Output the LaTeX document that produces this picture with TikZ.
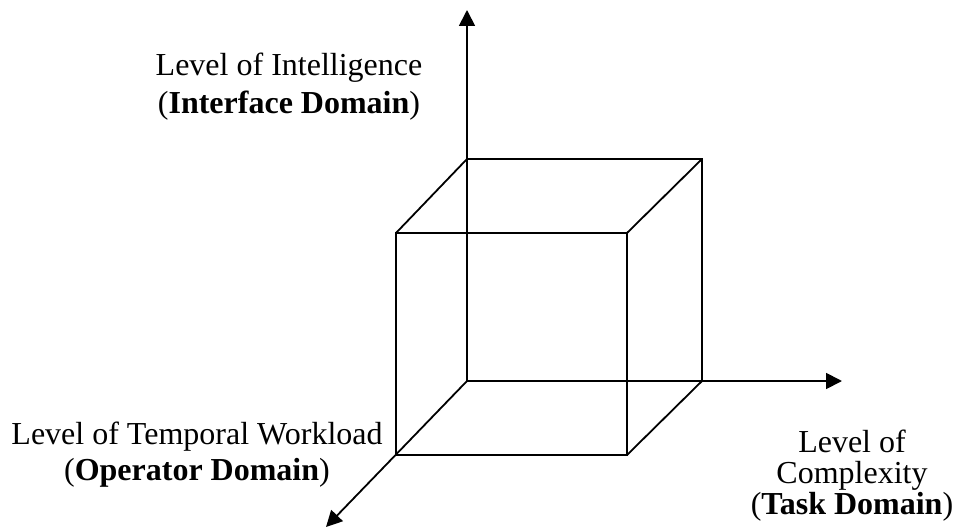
\documentclass[tikz,border=0pt]{standalone}
\usepackage{fontspec}
\setmainfont{Liberation Serif}
\usetikzlibrary{arrows.meta}
\begin{document}
\begin{tikzpicture}[x=1pt,y=-1pt,line width=1.8pt,
  axis/.style={-{Triangle[length=16pt,width=16pt]}},
  lab/.style={align=center,inner sep=0pt,anchor=north,font=\fontsize{32}{36}\selectfont}]
\useasboundingbox (0,0) rectangle (959,527);
% back square
\coordinate (O) at (467,381);
\coordinate (B1) at (467,159);
\coordinate (B2) at (702,159);
\coordinate (B3) at (702,381);
% front square
\coordinate (F1) at (396,233);
\coordinate (F2) at (627,233);
\coordinate (F3) at (627,455);
\coordinate (F4) at (396,455);
% axis ends
\coordinate (Ytip) at (467,10);
\coordinate (Xtip) at (842,381);
\coordinate (Ztip) at (326,527);
% cube
\draw (B1) -- (B2) -- (B3) -- (O);
\draw (F1) -- (F2) -- (F3) -- (F4) -- cycle;
\draw (B1) -- (F1);
\draw (B2) -- (F2);
\draw (B3) -- (F3);
% axes
\draw[axis] (O) -- (Ytip);
\draw[axis] (O) -- (Xtip);
\draw[axis] (O) -- (Ztip);
% labels
\node[lab,font=\fontsize{32}{38}\selectfont] (intel) at (289,52) {Level of Intelligence\\(\textbf{Interface Domain})};
\node[lab] (temp) at (197,421) {Level of Temporal Workload\\(\textbf{Operator Domain})};
\node[lab,font=\fontsize{32}{31}\selectfont] (comp) at (852,429) {Level of\\Complexity\\(\textbf{Task Domain})};
\end{tikzpicture}
\end{document}
